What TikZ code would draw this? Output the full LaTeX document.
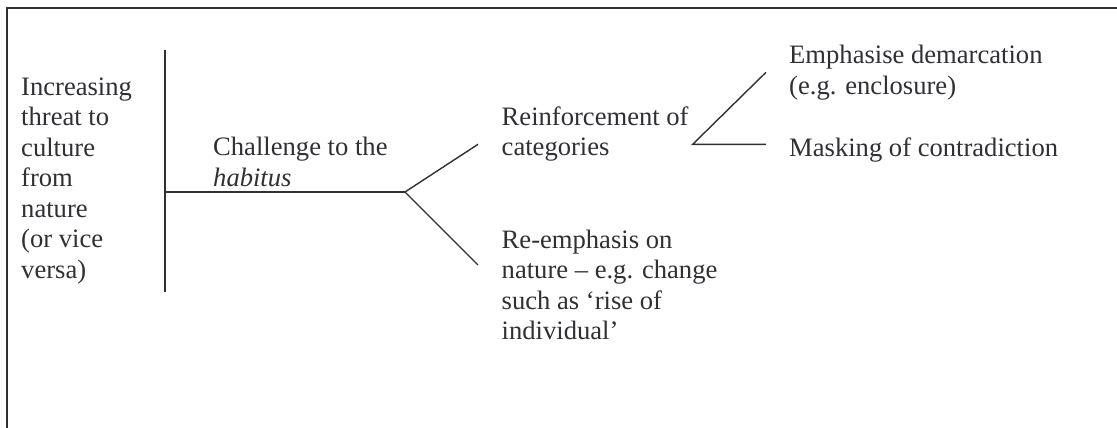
\documentclass[tikz,border=0pt]{standalone}
\usepackage{fontspec}
\setmainfont{Liberation Serif}
\begin{document}
\begin{tikzpicture}[x=1pt,y=-1pt,
  ink/.style={draw={rgb,255:red,48;green,48;blue,52}},
  frameline/.style={ink,line width=1.8pt},
  branch/.style={ink,line width=1.4pt},
  % multi-line labels are placed by the baseline of their last line
  label/.style={anchor=base west,inner sep=0pt,align=left,
    text={rgb,255:red,48;green,48;blue,52},
    font=\fontsize{26.6}{30.5}\selectfont}]
  \useasboundingbox (0,0) rectangle (1117,428);

  % open frame: top and left edges only
  \coordinate (fTL) at (6.7,8);
  \coordinate (fTR) at (1117,8);
  \coordinate (fBL) at (6.7,428);
  \draw[frameline] (fTR) -- (fTL) -- (fBL);

  % texts
  \node[label] (threat) at (21,278)
    {Increasing\\threat to\\culture\\from\\nature\\(or vice\\versa)};
  \node[label] (challenge) at (213,186) {Challenge to the\\\textit{habitus}};
  \node[label] (reinforce) at (501.5,155.5) {Reinforcement of\\categories};
  \node[label] (reemph) at (501.5,339.5)
    {Re-emphasis on\\nature – e.g. change\\such as ‘rise of\\individual’};
  \node[label] (demarc) at (789,94.5) {Emphasise demarcation\\(e.g. enclosure)};
  \node[label] (masking) at (789,156) {Masking of contradiction};

  % junction points of the branching lines
  \coordinate (barTop) at (165,50);
  \coordinate (barBot) at (165,292);
  \coordinate (barMid) at (165,192);
  \coordinate (fork) at (405,192);
  \coordinate (forkUp) at (478,144.3);
  \coordinate (forkDown) at (478,265);
  \coordinate (fork2) at (692.7,144.3);
  \coordinate (fork2Up) at (766,72.3);
  \coordinate (fork2Right) at (766,144.3);

  \draw[branch] (barTop) -- (barBot);
  \draw[branch] (barMid) -- (fork);
  \draw[branch] (fork) -- (forkUp);
  \draw[branch] (fork) -- (forkDown);
  \draw[branch] (fork2Up) -- (fork2) -- (fork2Right);
\end{tikzpicture}
\end{document}
